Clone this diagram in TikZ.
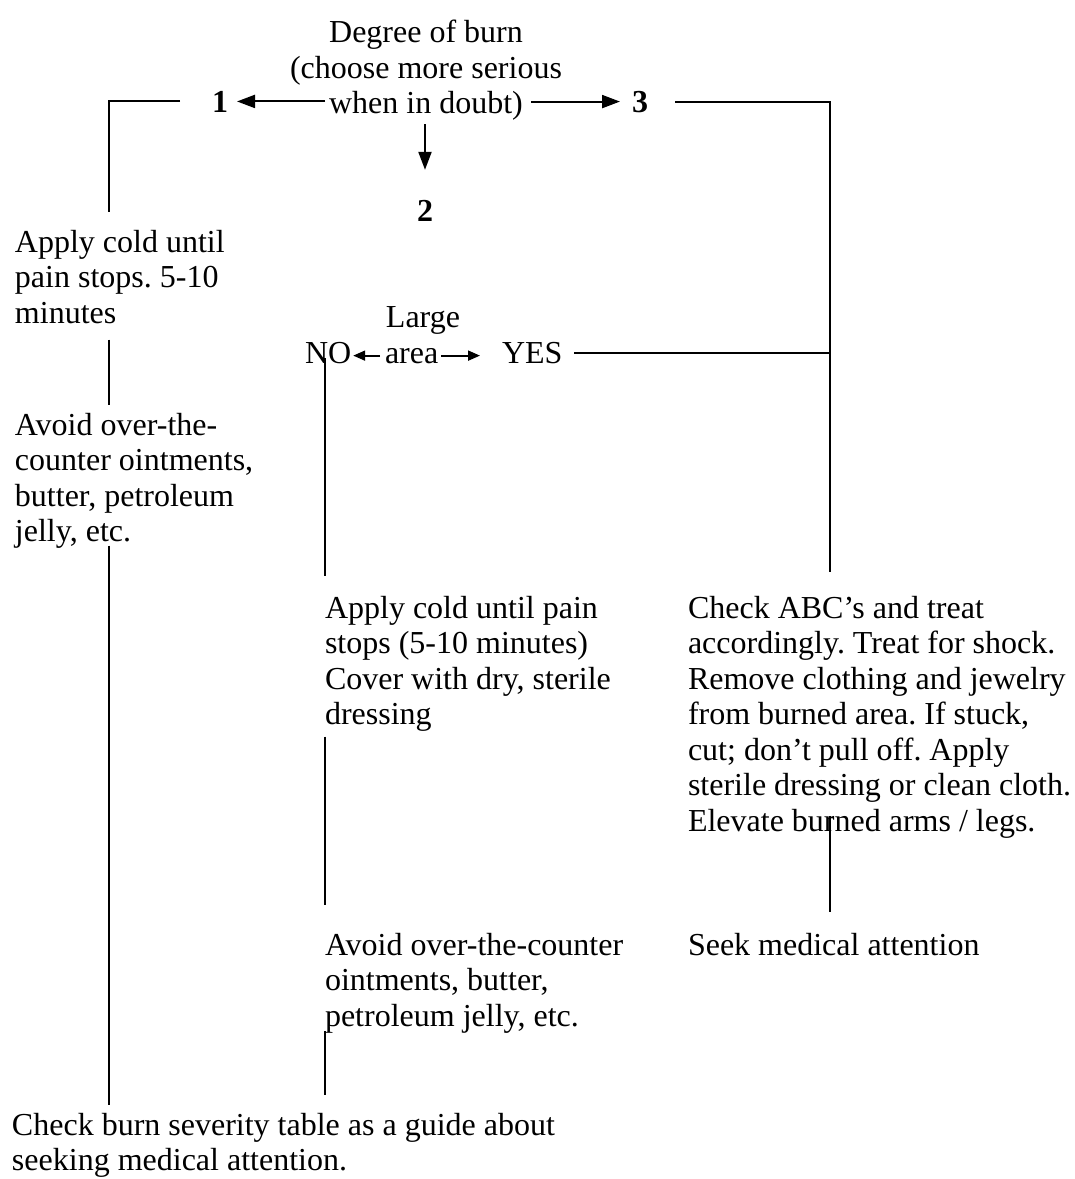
\documentclass[tikz,border=0pt]{standalone}
\usepackage{fontspec}
\setmainfont{Liberation Serif}
\usetikzlibrary{arrows.meta,calc}
\frenchspacing
\begin{document}
\begin{tikzpicture}[x=1pt,y=-1pt,
  txt/.style={font=\fontsize{32}{35.5}\selectfont, inner sep=0pt, outer sep=0pt, align=left, anchor=north west},
  word/.style={font=\fontsize{32}{35.5}\selectfont, inner sep=0pt, outer sep=0pt, anchor=base west},
  num/.style={font=\fontsize{32}{35.5}\selectfont\bfseries, inner sep=0pt, outer sep=0pt, anchor=base},
  ln/.style={line width=2.1pt},
  arr/.style={line width=2.1pt, -{Triangle[length=18pt,width=13pt]}},
  sarr/.style={line width=1.8pt, -{Triangle[length=12pt,width=10pt]}}]
\useasboundingbox (0,0) rectangle (1075,1179);

% connector columns
\coordinate (colL) at (109,0);
\coordinate (colM) at (325,0);
\coordinate (colR) at (830,0);

% top decision
\node[txt, anchor=north, align=center] (title) at (426,20)
  {Degree of burn\\(choose more serious\\when in doubt)};
\node[num] (one)   at (220,112) {1};
\node[num] (two)   at (425,221) {2};
\node[num] (three) at (640,112) {3};

% first degree
\node[txt] (a1) at (15,230) {Apply cold until\\pain stops. 5-10\\minutes};
\node[txt] (a2) at (15,413) {Avoid over-the-\\counter ointments,\\butter, petroleum\\jelly, etc.};

% second degree
\node[word, anchor=base] (large) at (423,327) {Large};
\node[word] (no)   at (305,363) {NO};
\node[word] (area) at (385,363) {area};
\node[word] (yes)  at (502,363) {YES};
\node[txt] (m1) at (325,596) {Apply cold until pain\\stops (5-10 minutes)\\Cover with dry, sterile\\dressing};
\node[txt] (m2) at (325,933) {Avoid over-the-counter\\ointments, butter,\\petroleum jelly, etc.};

% third degree
\node[txt] (r1) at (688,596) {Check ABC's and treat\\accordingly. Treat for shock.\\Remove clothing and jewelry\\from burned area. If stuck,\\cut; don't pull off. Apply\\sterile dressing or clean cloth.\\Elevate burned arms / legs.};
\node[txt] (r2) at (688,933) {Seek medical attention};

% common end
\node[txt] (bot) at (12,1113) {Check burn severity table as a guide about\\seeking medical attention.};

% arrows from the degree question
\draw[arr] ([xshift=-101pt]title.south |- one.east) -- ([xshift=9pt]one.east);
\draw[arr] ([xshift=105pt]title.south |- three.west) -- ([xshift=-12pt]three.west);
\draw[arr] ([yshift=-4pt]title.south -| two) -- ([yshift=30pt]two.north);

% large area question
\draw[sarr] ($(area.west)+(-5,0)$) -- ($(no.east |- area.west)+(2,0)$);
\draw[sarr] ($(area.east)+(3,0)$) -- ($(yes.west |- area.east)+(-22,0)$);

% first degree branch
\draw[ln] ($(one.west)+(-32,0)$) -| ($(colL |- a1.north)+(0,-18)$);
\draw[ln] ($(colL |- a1.south)+(0,16)$) -- ($(colL |- a2.north)+(0,-8)$);
\draw[ln] ($(colL |- a2.south)+(0,-3)$) -- ($(colL |- bot.north)+(0,-8)$);

% second degree branch
\draw[ln] ($(colM |- no.south)+(0,-5)$) -- ($(colM |- m1.north)+(0,-20)$);
\draw[ln] ($(colM |- m1.south)+(0,5)$) -- ($(colM |- m2.north)+(0,-28)$);
\draw[ln] ($(colM |- m2.south)+(0,-2)$) -- ($(colM |- bot.north)+(0,-18)$);

% third degree branch
\draw[ln] ($(three.east)+(27,0)$) -| ($(colR |- r1.north)+(0,-24)$);
\draw[ln] ($(yes.east)+(12,0)$) -- (colR |- yes.east);
\draw[ln] ($(colR |- r1.south)+(0,-22)$) -- ($(colR |- r2.north)+(0,-21)$);
\end{tikzpicture}
\end{document}
